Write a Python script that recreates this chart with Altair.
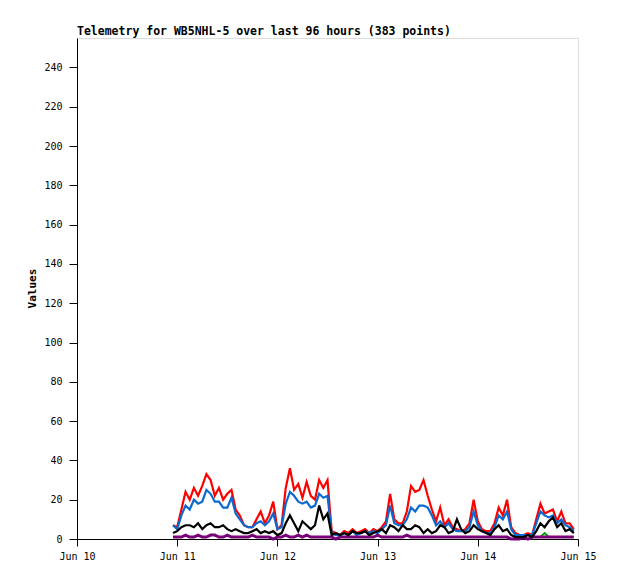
import altair as alt
import pandas as pd

# hours since Jun 10 00:00 (hourly samples, Jun 10 23:00 .. Jun 14 23:00)
hours = list(range(23, 120))

red = [7, 6, 15, 24, 20, 26, 22, 27, 33, 30,
       22, 26, 20, 23, 25, 15, 12, 7, 6, 6,
       10, 14, 8, 12, 19, 5, 7, 26, 36, 25,
       28, 21, 29, 22, 20, 30, 26, 30, 4, 3,
       2, 4, 3, 5, 3, 4, 5, 3, 5, 4,
       6, 9, 23, 10, 8, 8, 14, 27, 24, 25,
       30, 22, 15, 9, 16, 7, 10, 6, 5, 4,
       5, 8, 20, 9, 5, 4, 4, 8, 16, 12,
       20, 6, 3, 2, 2, 3, 2, 10, 18, 13,
       14, 15, 9, 14, 8, 8, 5]

blue = [7, 5, 12, 17, 15, 20, 18, 19, 25, 23,
        19, 19, 16, 16, 21, 13, 10, 7, 6, 6,
        8, 9, 7, 9, 13, 5, 6, 18, 24, 22,
        19, 18, 19, 16, 17, 23, 21, 22, 3, 2,
        2, 3, 2, 4, 2, 3, 4, 3, 4, 3,
        5, 7, 17, 8, 7, 7, 10, 16, 14, 17,
        17, 16, 12, 7, 9, 6, 8, 5, 4, 4,
        4, 6, 14, 7, 4, 3, 3, 6, 12, 10,
        14, 5, 2, 2, 2, 2, 2, 8, 14, 12,
        11, 12, 8, 10, 7, 6, 4]

black = [3, 4, 6, 7, 7, 6, 8, 5, 7, 8,
         6, 6, 7, 5, 4, 5, 4, 3, 3, 4,
         5, 3, 4, 3, 4, 2, 3, 8, 12, 8,
         4, 9, 7, 5, 7, 17, 10, 13, 2, 3,
         2, 3, 2, 4, 3, 3, 4, 2, 3, 4,
         5, 3, 7, 6, 4, 7, 5, 5, 7, 6,
         3, 5, 3, 4, 7, 6, 3, 4, 10, 5,
         3, 4, 7, 5, 4, 3, 2, 5, 7, 4,
         5, 2, 1, 1, 1, 2, 1, 4, 8, 6,
         9, 11, 6, 8, 4, 5, 3]

purple = [1, 1, 1, 2, 1, 1, 2, 1, 1, 2,
          2, 1, 1, 2, 1, 1, 1, 1, 1, 2,
          1, 1, 1, 1, 0, 1, 1, 2, 1, 1,
          2, 1, 2, 1, 1, 1, 1, 1, 1, 0,
          1, 1, 1, 1, 1, 1, 1, 1, 1, 2,
          1, 1, 1, 1, 1, 1, 2, 1, 1, 1,
          1, 1, 1, 1, 1, 1, 1, 1, 1, 1,
          1, 1, 1, 1, 1, 1, 1, 1, 1, 1,
          1, 0, 0, 0, 1, 0, 1, 1, 1, 1,
          1, 1, 1, 1, 1, 1, 1]

green_hours = [111, 112, 113]
green = [1, 3, 1]

x_tick_values = [0, 24, 48, 72, 96, 120]
x_tick_labels = ["Jun 10", "Jun 11", "Jun 12", "Jun 13", "Jun 14", "Jun 15"]
y_tick_values = [0, 20, 40, 60, 80, 100, 120, 140, 160, 180, 200, 220, 240]

series = [("red", hours, red, "#ff0000", 2.2), ("blue", hours, blue, "#0a6ad2", 2.2),
          ("green", green_hours, green, "#00a000", 2),
          ("purple", hours, purple, "#7a007a", 3),
          ("black", hours, black, "#000000", 2.2)]

FONT = "DejaVu Sans Mono"
label_expr = "[" + ",".join("'%s'" % s for s in x_tick_labels) + "][datum.value / 24]"

xscale = alt.Scale(domain=[0, 120], nice=False, zero=False)
yscale = alt.Scale(domain=[0, 255], nice=False)

xaxis = alt.Axis(values=x_tick_values, labelExpr=label_expr, title=None, grid=False,
                 domainColor="black", tickColor="black", tickSize=7, labelPadding=5,
                 labelFlush=False,
                 labelFont=FONT, labelFontSize=10, labelColor="black")
yaxis = alt.Axis(values=y_tick_values, title="Values", grid=False,
                 domainColor="black", tickColor="black", tickSize=8, labelPadding=7,
                 labelFont=FONT, labelFontSize=10, labelColor="black",
                 titleFont=FONT, titleFontSize=11, titleFontWeight="bold",
                 titleColor="black", titleX=-45, titleY=250, titleAngle=-90,
                 titleAlign="center", titleBaseline="middle")

layers = []
for name, tt, vals, col, sw in series:
    df = pd.DataFrame({"t": tt, "v": vals})
    layers.append(alt.Chart(df).mark_line(color=col, strokeWidth=sw).encode(
        x=alt.X("t:Q", scale=xscale, axis=xaxis),
        y=alt.Y("v:Q", scale=yscale, axis=yaxis),
    ))

chart = alt.layer(*layers).properties(
    width=501, height=501,
    title=alt.TitleParams("Telemetry for WB5NHL-5 over last 96 hours (383 points)",
                          anchor="start", frame="group", font=FONT, fontSize=11.5,
                          fontWeight="bold", color="black", offset=1),
    autosize=alt.AutoSizeParams(type="none"),
    padding={"left": 69, "top": 30, "right": 30, "bottom": 30},
).configure_view(stroke="#888888", strokeWidth=1).configure(background="white")

chart.save("out.html", embed_options={"renderer": "svg", "actions": False})
